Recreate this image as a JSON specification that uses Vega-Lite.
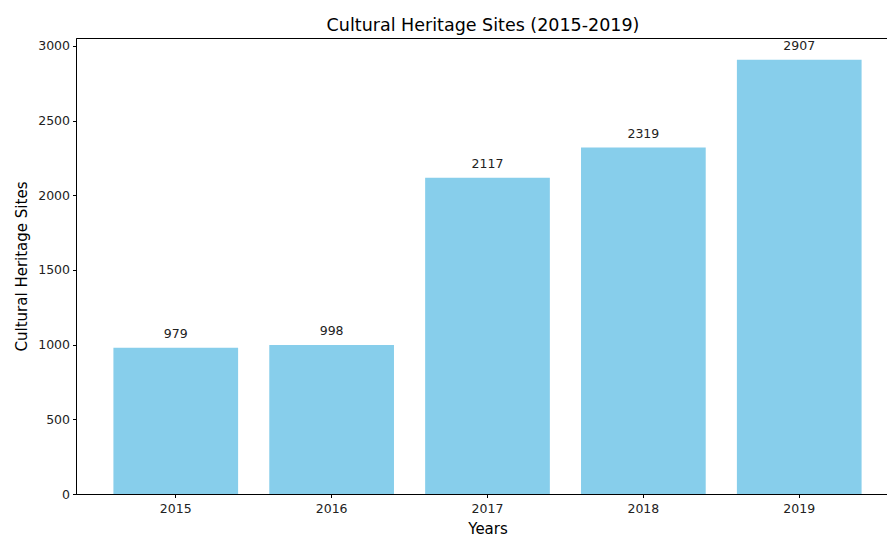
{
  "$schema": "https://vega.github.io/schema/vega-lite/v6.json",
  "autosize": "none",
  "width": 814,
  "height": 456,
  "padding": {"left": 76, "top": 38, "right": 0, "bottom": 40},
  "background": "white",
  "config": {
    "font": "DejaVu Sans",
    "view": {"stroke": "black", "strokeWidth": 1},
    "axis": {"grid": false, "domainColor": "black", "tickColor": "black", "labelColor": "#222222", "titleColor": "black", "labelFont": "DejaVu Sans", "titleFont": "DejaVu Sans", "labelFontSize": 12.5, "titleFontSize": 15, "titleFontWeight": "normal", "tickSize": 3.5, "labelPadding": 3}
  },
  "title": {"text": "Cultural Heritage Sites (2015-2019)", "fontSize": 17.5, "fontWeight": "normal", "font": "DejaVu Sans", "color": "black", "anchor": "middle", "offset": 4},
  "data": {"values": [
    {"year": "2015", "sites": 979},
    {"year": "2016", "sites": 998},
    {"year": "2017", "sites": 2117},
    {"year": "2018", "sites": 2319},
    {"year": "2019", "sites": 2907}
  ]},
  "encoding": {
    "x": {"field": "year", "type": "nominal", "sort": null, "scale": {"paddingInner": 0.2, "paddingOuter": 0.24, "range": [0, 823]}, "axis": {"title": "Years", "labelAngle": 0, "labelPadding": 5, "titlePadding": 6}},
    "y": {"field": "sites", "type": "quantitative", "scale": {"domain": [0, 3052.35], "nice": false}, "axis": {"title": "Cultural Heritage Sites", "format": "d", "values": [0, 500, 1000, 1500, 2000, 2500, 3000], "titlePadding": 8}}
  },
  "layer": [
    {"mark": {"type": "bar", "color": "#87CEEB"}},
    {"mark": {"type": "text", "baseline": "alphabetic", "dy": -10, "fontSize": 12.5, "color": "#222222", "font": "DejaVu Sans"}, "encoding": {"text": {"field": "sites", "type": "quantitative"}}}
  ]
}
